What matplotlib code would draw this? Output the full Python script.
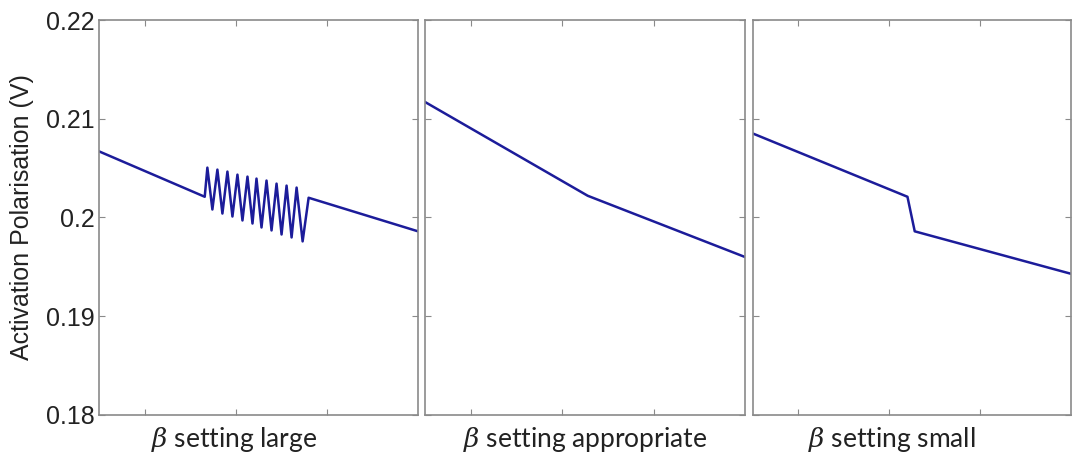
import matplotlib
matplotlib.use("Agg")
import matplotlib.pyplot as plt

# ---- data (x in arbitrary units 5..40, y in volts) ----
x_large = [5.0, 16.6, 16.89, 17.44, 17.99, 18.54, 19.09, 19.64, 20.19, 20.74,
           21.29, 21.84, 22.28, 22.83, 23.38, 23.93, 24.48, 25.03, 25.58, 26.13,
           26.68, 27.34, 28.0, 40.0]
y_large = [0.2067, 0.2021, 0.20505, 0.20081, 0.20485, 0.20040, 0.20465, 0.20010,
           0.20434, 0.19970, 0.20414, 0.19939, 0.20394, 0.19899, 0.20374, 0.19869,
           0.20343, 0.19828, 0.20323, 0.19798, 0.20303, 0.19758, 0.2020, 0.1986]

x_appr = [5.0, 22.8, 40.0]
y_appr = [0.2117, 0.2022, 0.1960]

x_small = [5.0, 22.0, 22.8, 40.0]
y_small = [0.2085, 0.2021, 0.1986, 0.1943]

panel_titles = [r"$\beta$ setting large", r"$\beta$ setting appropriate",
                r"$\beta$ setting small"]
y_ticks = [0.18, 0.19, 0.20, 0.21, 0.22]
y_tick_labels = ["0.18", "0.19", "0.2", "0.21", "0.22"]
x_ticks = [10, 20, 30]
y_label = "Activation Polarisation (V)"

plt.rcParams["mathtext.fontset"] = "dejavuserif"

W, H = 1074, 459
fig = plt.figure(figsize=(W / 100, H / 100), dpi=100)

lefts = [99, 425, 753]
rights = [418, 745, 1071]
top_px, bot_px = 20, 415
label_centers = [234, 585, 892]

series = [(x_large, y_large), (x_appr, y_appr), (x_small, y_small)]
line_color = "#1c1c9a"
spine_color = "#8a8a8a"

for i in range(3):
    ax = fig.add_axes([lefts[i] / W, 1 - bot_px / H,
                       (rights[i] - lefts[i]) / W, (bot_px - top_px) / H])
    xs, ys = series[i]
    ax.plot(xs, ys, color=line_color, lw=1.8)
    ax.set_xlim(5, 40)
    ax.set_ylim(0.18, 0.22)
    ax.set_xticks(x_ticks)
    ax.set_xticklabels([])
    ax.set_yticks(y_ticks)
    if i == 0:
        ax.set_yticklabels(y_tick_labels, fontsize=18, family="Liberation Sans",
                           color="#222222")
        ax.set_ylabel(y_label, fontsize=18, family="Liberation Sans",
                      color="#222222", labelpad=9)
    else:
        ax.set_yticklabels([])
    ax.tick_params(direction="in", length=4, width=0.8, color=spine_color,
                   top=True, right=True, pad=3)
    for s in ax.spines.values():
        s.set_color(spine_color)
        s.set_linewidth(1.2)
    fig.text(label_centers[i] / W, 1 - 440 / H, panel_titles[i],
             ha="center", va="center", fontsize=19, family="Lato",
             color="#222222")

fig.savefig("out.png", dpi=100)
